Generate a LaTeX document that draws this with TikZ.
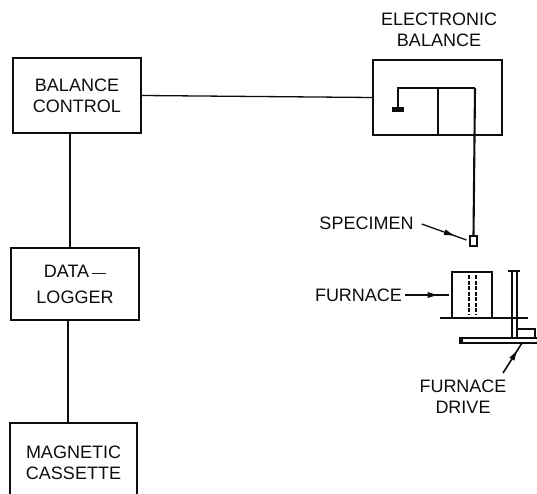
\documentclass[tikz,border=0pt]{standalone}
\usepackage{fontspec}
\setmainfont{Liberation Sans}
\usetikzlibrary{arrows.meta,decorations.markings}
\definecolor{ink}{gray}{0.05}
\tikzset{
  x=1pt,y=-1pt,
  line/.style={draw=ink,line width=1.7pt},
  thinline/.style={draw=ink,line width=1.3pt},
  blockbox/.style={rectangle,draw=ink,line width=1.9pt,align=center,inner sep=0pt,text=ink,font=\fontsize{18}{21}\selectfont},
  lbl/.style={align=center,inner sep=0pt,text=ink,font=\fontsize{18}{21}\selectfont},
  midarrow/.style={thinline,postaction={decorate},decoration={markings,mark=at position #1 with {\arrow[ink]{Latex[length=12pt,width=6pt]}}}}
}
\begin{document}
\begin{tikzpicture}
\useasboundingbox (0,0) rectangle (537,494);
% blocks
\node[blockbox,minimum width=128pt,minimum height=75pt] (bc) at (77,95.5) {BALANCE\\CONTROL};
\node[blockbox,minimum width=128pt,minimum height=72pt] (dl) at (75,284) {DATA\,{\fontsize{14}{14}\selectfont —}\\[5pt]LOGGER};
\node[blockbox,minimum width=127pt,minimum height=80pt,anchor=north] (mc) at (73.5,422) {MAGNETIC\\CASSETTE};
\node[blockbox,minimum width=129pt,minimum height=75pt] (eb) at (437.5,97.5) {};
\node[lbl] (ebl) at (439,30) {ELECTRONIC\\BALANCE};
% connectors
\coordinate (c1) at (70,190);
\coordinate (c2) at (68,370);
\draw[thinline] (bc.east) -- (eb.west);
\draw[draw=ink,line width=2pt] (bc.south -| c1) -- (dl.north -| c1);
\draw[draw=ink,line width=2pt] (dl.south -| c2) -- (mc.north -| c2);
% balance interior
\coordinate (t1) at (398,88);
\coordinate (t2) at (475,88);
\coordinate (d1) at (438,88);
\coordinate (d2) at (438,135);
\node[fill=ink,minimum width=12pt,minimum height=5pt,inner sep=0pt] (blob) at (398,110) {};
\node[draw=ink,line width=2pt,minimum width=6.5pt,minimum height=9.5pt,inner sep=0pt] (spec) at (473.5,241) {};
\draw[line] (blob.north) -- (t1) -- (t2);
\draw[draw=ink,line width=2.1pt] (t2) -- (spec.north);
\draw[line] (d1) -- (d2);
% specimen label
\node[lbl] (specl) at (366.5,223) {SPECIMEN};
\draw[midarrow=0.72,shorten >=3pt] (specl.east)++(8,1) coordinate (s0) (s0) -- (spec.west);
% furnace
\node[lbl] (fl) at (358.5,295) {FURNACE};
\node[draw=ink,line width=1.6pt,minimum width=40pt,minimum height=46pt,inner sep=0pt] (fur) at (472,295) {};
\draw[midarrow=0.75,shorten >=2pt] (fl.east) ++(3,0) coordinate (f0) (f0) -- (fur.west);
\coordinate (b1) at (440,318);
\coordinate (b2) at (528,318);
\draw[line] (b1) -- (b2);
\coordinate (h1) at (469,275); \coordinate (h2) at (469,315);
\coordinate (h3) at (476,275); \coordinate (h4) at (476,315);
\draw[draw=ink,line width=2.2pt,dash pattern=on 4pt off 1.5pt] (h1) -- (h2);
\draw[draw=ink,line width=2.2pt,dash pattern=on 4pt off 1.5pt] (h3) -- (h4);
% post and drive
\coordinate (p1) at (512,271); \coordinate (p2) at (512,338);
\coordinate (p3) at (517,271); \coordinate (p4) at (517,338);
\coordinate (cap1) at (508,271); \coordinate (cap2) at (520,271);
\draw[line] (p1) -- (p2);
\draw[line] (p3) -- (p4);
\draw[line] (cap1) -- (cap2);
\coordinate (k1) at (517,329); \coordinate (k2) at (535,329); \coordinate (k3) at (535,338);
\draw[thinline] (k1) -- (k2) -- (k3);
\coordinate (e1) at (459,338); \coordinate (e2) at (537,338);
\coordinate (e3) at (459,343); \coordinate (e4) at (537,343);
\draw[line] (e1) -- (e2);
\draw[line] (e3) -- (e4);
\fill[ink] (e1) rectangle (463,343);
% furnace drive label
\node[lbl] (fd) at (463,397) {FURNACE\\DRIVE};
\coordinate (a0) at (503,373); \coordinate (a1) at (522,343);
\draw[midarrow=0.8,line width=1.6pt] (a0) -- (a1);
\end{tikzpicture}
\end{document}
